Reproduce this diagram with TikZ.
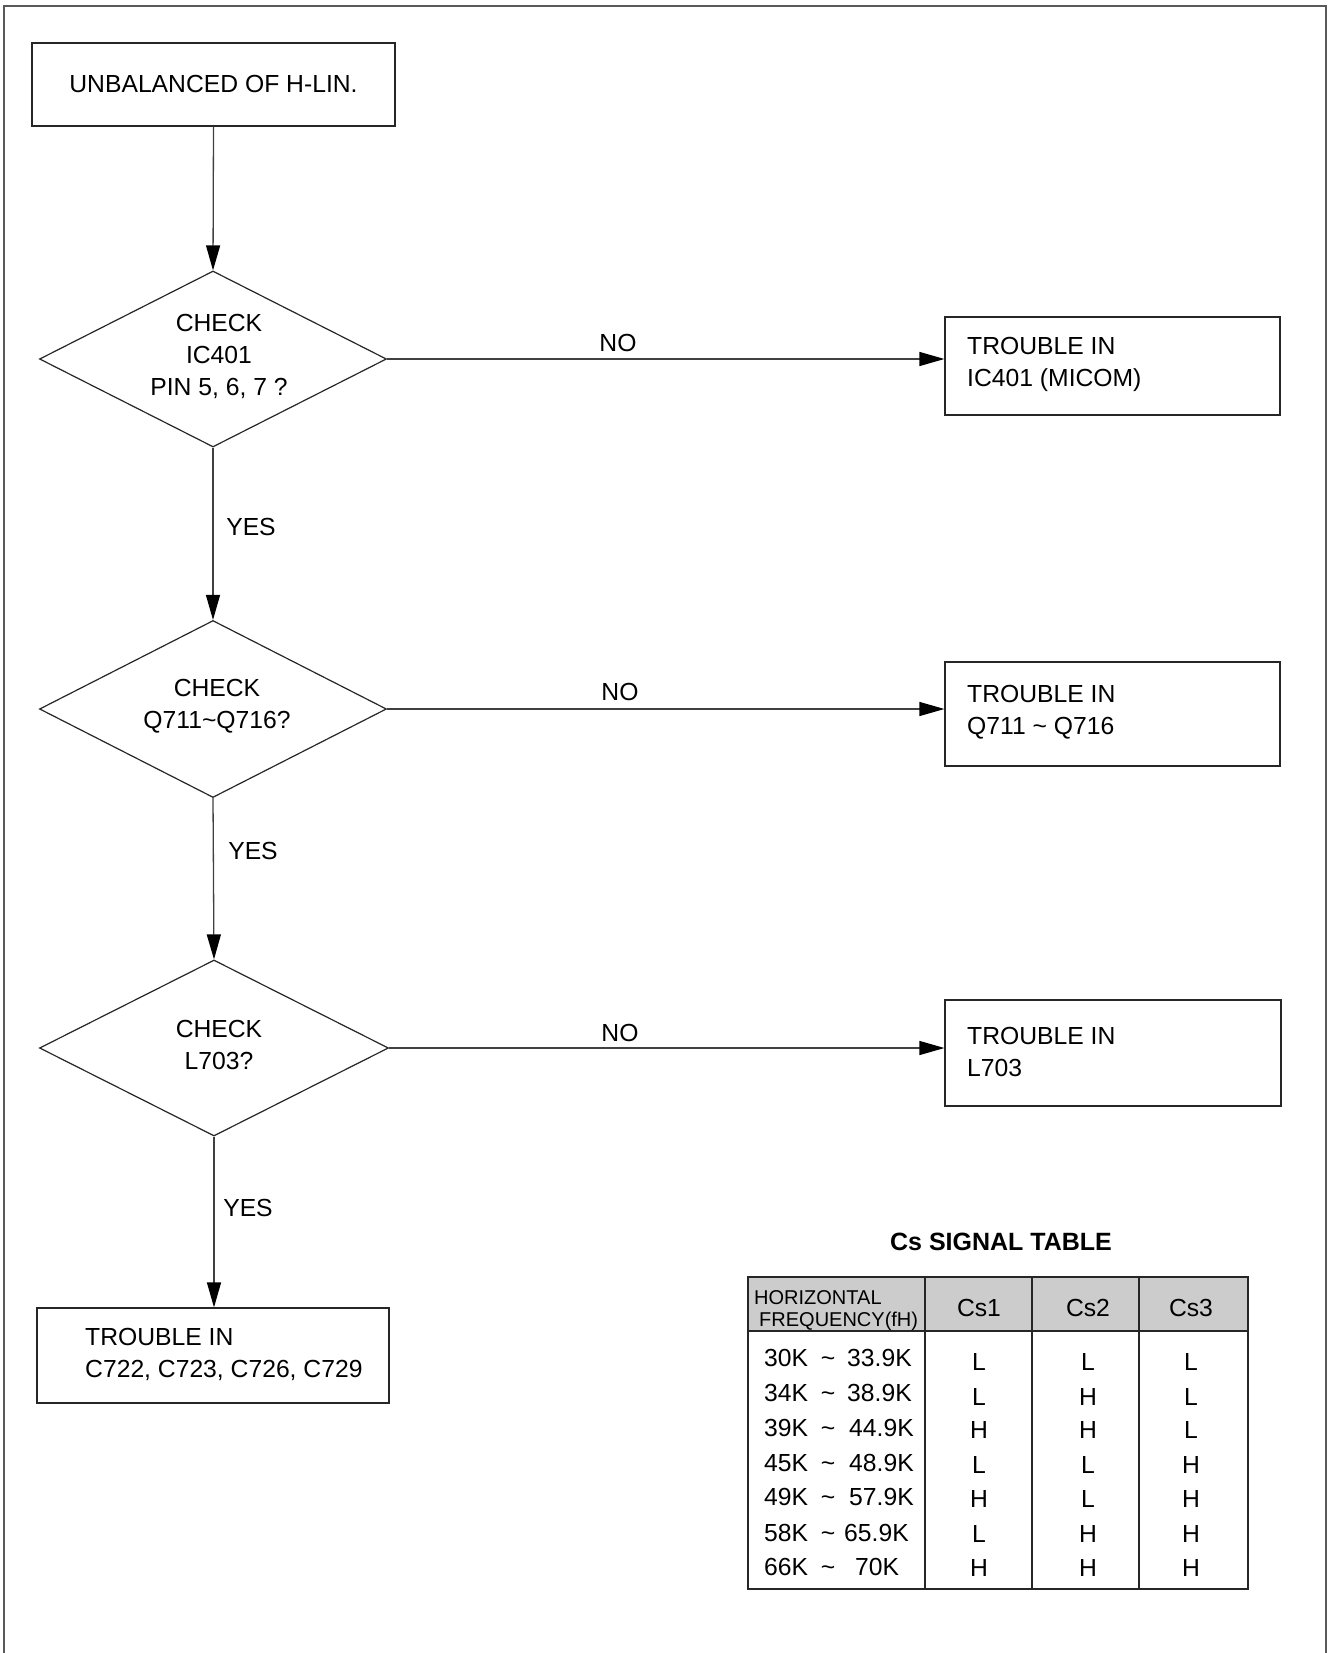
\documentclass[tikz,border=0pt]{standalone}
\usepackage{fontspec}
\setmainfont{Liberation Sans}
\usetikzlibrary{shapes.geometric,arrows.meta}
\begin{document}
\begin{tikzpicture}[x=1pt,y=-1pt,
  every node/.style={font=\fontsize{24.7}{32}\selectfont, text=black},
  ln/.style={draw=black!85, line width=1.2pt},
  box/.style={ln, rectangle, inner sep=0pt},
  dia/.style={ln, diamond, inner sep=0pt},
  arr/.style={draw=black!75, line width=1.3pt, -{Triangle[length=25pt,width=14pt,color=black]}},
  lbl/.style={inner sep=0pt},
  tline/.style={draw=black!85, line width=1.4pt},
  cell/.style={inner sep=0pt, anchor=base},
  cellw/.style={inner sep=0pt, anchor=base west},
]
\useasboundingbox (0,0) rectangle (1328,1653);
\draw[draw=black!65,line width=1.6pt] (4,1653) -- (4,6) -- (1326,6) -- (1326,1653);

% start box
\node[box, minimum width=363pt, minimum height=83pt] (start) at (213.5,84.5) {UNBALANCED OF H-LIN.};

% diamonds
\node[dia, minimum width=347pt, minimum height=176pt] (d1) at (213,359) {};
\node[lbl, align=center] (d1t) at (219,356) {CHECK\\IC401\\PIN 5, 6, 7 ?};
\node[dia, minimum width=347pt, minimum height=177pt] (d2) at (213,709) {};
\node[lbl, align=center] (d2t) at (217,706) {CHECK\\Q711\textasciitilde Q716?};
\node[dia, minimum width=349pt, minimum height=176pt] (d3) at (214,1048) {};
\node[lbl, align=center] (d3t) at (219,1045) {CHECK\\L703?};

% result boxes
\node[box, minimum width=335pt, minimum height=98pt] (r1) at (1112.5,366) {};
\node[lbl, anchor=west, align=left] (r1t) at (967,364) {TROUBLE IN\\IC401 (MICOM)};
\node[box, minimum width=335pt, minimum height=104pt] (r2) at (1112.5,714) {};
\node[lbl, anchor=west, align=left] (r2t) at (967,712.5) {TROUBLE IN\\Q711 \textasciitilde{} Q716};
\node[box, minimum width=336pt, minimum height=106pt] (r3) at (1113,1053) {};
\node[lbl, anchor=west, align=left] (r3t) at (967,1051.5) {TROUBLE IN\\L703};
\node[box, minimum width=352pt, minimum height=95pt] (fin) at (213,1355.5) {};
\node[lbl, anchor=west, align=left] (fint) at (85,1354) {TROUBLE IN\\C722, C723, C726, C729};

% connectors
\draw[arr] (start.south) -- (d1.north);
\draw[arr] (d1.south) -- (d2.north);
\draw[arr] (d2.south) -- (d3.north);
\draw[arr] (d3.south) -- (d3.south |- fin.north);
\draw[arr] (d1.east) -- (d1.east -| r1.west);
\draw[arr] (d2.east) -- (d2.east -| r2.west);
\draw[arr] (d3.east) -- (d3.east -| r3.west);

% labels
\node[lbl] (no1) at (618,343) {NO};
\node[lbl] (no2) at (620,692) {NO};
\node[lbl] (no3) at (620,1033) {NO};
\node[lbl] (yes1) at (251,527) {YES};
\node[lbl] (yes2) at (253,851) {YES};
\node[lbl] (yes3) at (248,1208) {YES};

% table
\node[lbl, font=\bfseries\fontsize{25}{30}\selectfont] (title) at (1001,1242) {Cs SIGNAL TABLE};
\fill[black!20] (748,1277) rectangle (1248,1331);
\draw[tline] (748,1277) rectangle (1248,1589);
\draw[tline] (748,1331) -- (1248,1331);
\draw[tline] (925,1277) -- (925,1589);
\draw[tline] (1032,1277) -- (1032,1589);
\draw[tline] (1139,1277) -- (1139,1589);
\node[cellw, font=\fontsize{20}{20}\selectfont] (h1) at (754,1304) {HORIZONTAL};
\node[cellw, font=\fontsize{20}{20}\selectfont] (h2) at (759,1326) {FREQUENCY(fH)};
\node[cell] (hc1) at (979,1316) {Cs1};
\node[cell] (hc2) at (1088,1316) {Cs2};
\node[cell] (hc3) at (1191,1316) {Cs3};
\foreach \lo/\hi/\hx/\ca/\cb/\cc/\yb/\yc [count=\i] in {
  30K/33.9K/847/L/L/L/1366/1370,
  34K/38.9K/847/L/H/L/1401/1405,
  39K/44.9K/849/H/H/L/1436/1438,
  45K/48.9K/849/L/L/H/1471/1473,
  49K/57.9K/849/H/L/H/1505/1507,
  58K/65.9K/844/L/H/H/1541/1542,
  66K/70K/855/H/H/H/1575/1576}{
  \node[cellw] (lo\i) at (764,\yb) {\lo};
  \node[cell] (ti\i) at (828,\yb) {\textasciitilde};
  \node[cellw] (hi\i) at (\hx,\yb) {\hi};
  \node[cell] (ca\i) at (979,\yc) {\ca};
  \node[cell] (cb\i) at (1088,\yc) {\cb};
  \node[cell] (cc\i) at (1191,\yc) {\cc};
}
\end{tikzpicture}
\end{document}
